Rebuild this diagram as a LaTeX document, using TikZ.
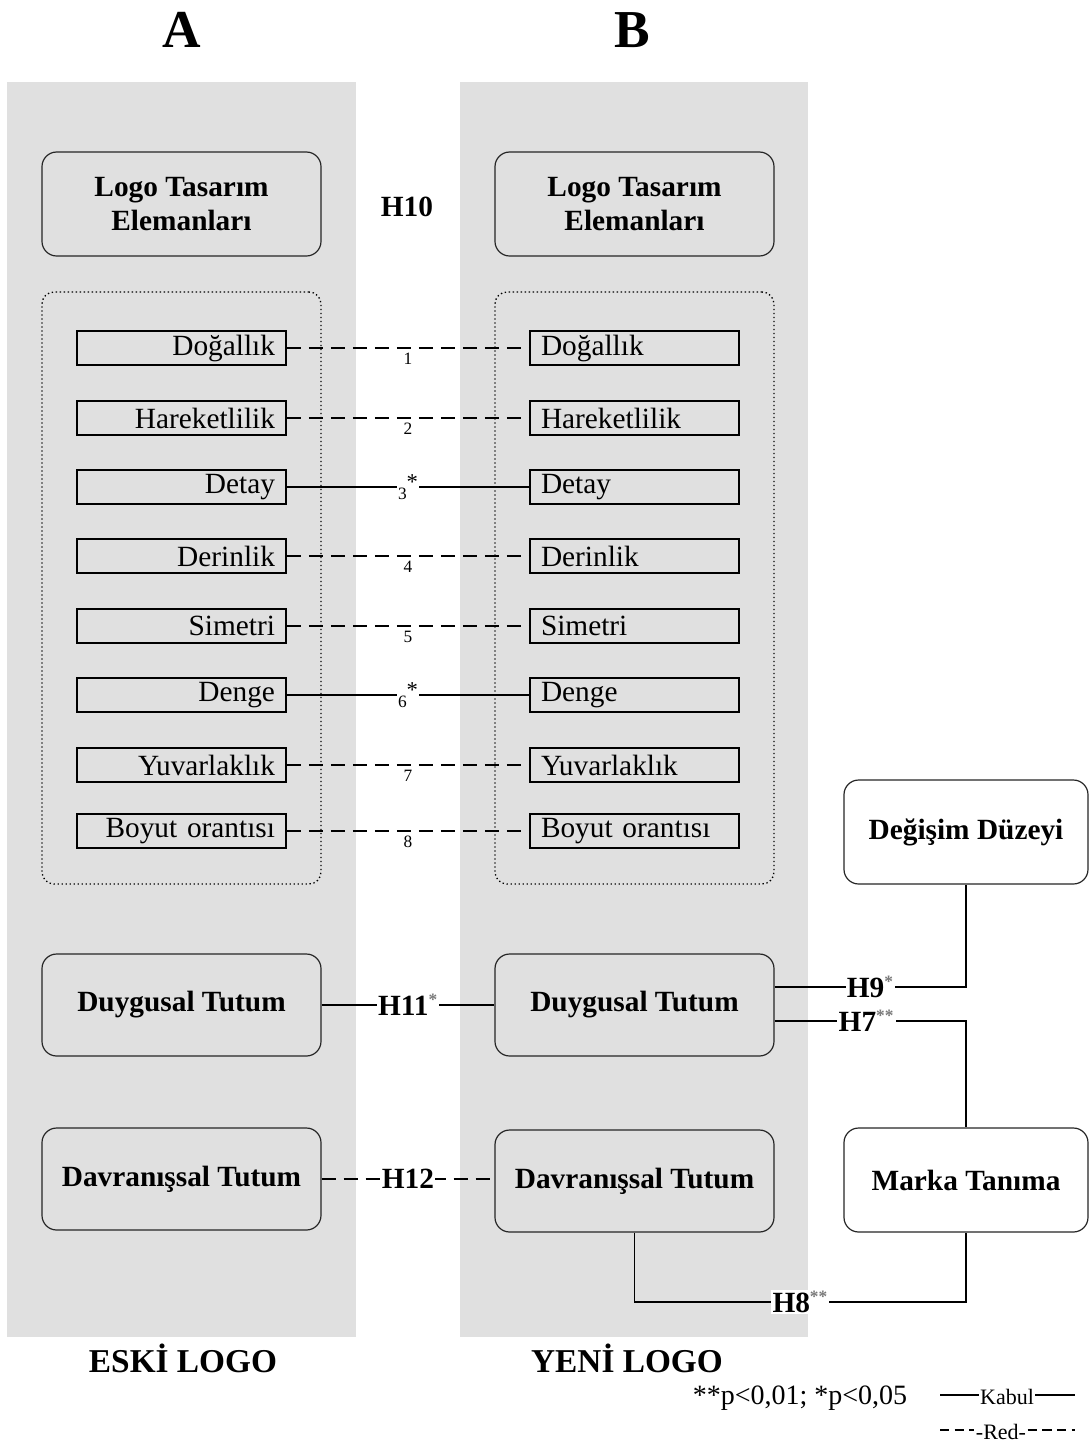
\documentclass[tikz,border=0pt]{standalone}
\usepackage{fontspec}
\setmainfont{Liberation Serif}
\usetikzlibrary{calc}
\definecolor{panelgray}{RGB}{224,224,224}
\definecolor{stargray}{RGB}{120,120,120}
\newcommand{\pxu}{0.75pt}
\newcommand{\sstar}[1]{\textsuperscript{\color{stargray}\fontsize{13}{13}\selectfont #1}}
\tikzset{
  panel/.style={fill=panelgray, draw=none},
  bigbox/.style={draw=black!85, line width=0.9pt, rounded corners=11pt, fill=panelgray,
    minimum width=279*\pxu, minimum height=104*\pxu, align=center,
    font=\fontsize{22}{26}\selectfont\bfseries},
  sidebox/.style={bigbox, fill=white, minimum width=244*\pxu},
  groupbox/.style={draw, dotted, line width=1pt, rounded corners=9pt,
    minimum width=279*\pxu, minimum height=592*\pxu},
  itemA/.style={draw, line width=1.2pt, fill=panelgray, minimum height=34*\pxu,
    text width=187*\pxu, inner xsep=11*\pxu, inner ysep=0pt, align=right,
    font=\fontsize{22}{22}\selectfont},
  itemB/.style={itemA, align=left},
  link/.style={line width=1pt},
  dlink/.style={line width=1pt, dash pattern=on 11pt off 5.5pt},
  numlab/.style={font=\fontsize{13}{13}\selectfont, inner sep=0.5pt},
  hlab/.style={font=\fontsize{22}{22}\selectfont\bfseries, fill=white, inner sep=1pt},
  title/.style={font=\fontsize{40}{40}\selectfont\bfseries},
  foot/.style={font=\fontsize{25}{25}\selectfont\bfseries}
}
\begin{document}
\begin{tikzpicture}[x=0.75pt, y=-0.75pt]
  \useasboundingbox (0,0) rectangle (1089,1454);

  % column backgrounds
  \fill[panel] (7,82) rectangle (356,1337);
  \fill[panel] (460,82) rectangle (808,1337);

  % column titles
  \node[title] (tA) at (182,30) {A};
  \node[title] (tB) at (632,30) {B};

  % logo design element headers
  \node[bigbox] (logoA) at (181.5,204) {Logo Tasarım\\Elemanları};
  \node[bigbox] (logoB) at (634.5,204) {Logo Tasarım\\Elemanları};
  \node[font=\fontsize{22}{22}\selectfont\bfseries] (h10) at (407,207) {H10};

  % dotted groups
  \node[groupbox] (grpA) at (181.5,588) {};
  \node[groupbox] (grpB) at (634.5,588) {};

  % design elements, compared pairwise
  \foreach \i/\y/\t in {1/348/Doğallık, 2/418/Hareketlilik, 3/487/Detay, 4/556/Derinlik,
                        5/626/Simetri, 6/695/Denge, 7/765/Yuvarlaklık, 8/831/Boyut orantısı} {
    \node[itemA] (a\i) at (181.5,\y) {\t};
    \node[itemB] (b\i) at (634.5,\y) {\t};
  }

  % rejected element links
  \foreach \i in {1,2,4,5,7,8} {
    \draw[dlink] (a\i.east) -- (b\i.west);
    \node[numlab] (n\i) at ($(a\i.east)!0.5!(b\i.west)+(0,11)$) {\i};
  }
  % accepted element links
  \foreach \i in {3,6} {
    \draw[link] (a\i.east) -- (b\i.west)
      node[midway, fill=white, inner sep=1pt, font=\fontsize{13}{13}\selectfont] (n\i)
      {\raisebox{-6pt}{\i}\raisebox{1pt}{\fontsize{17}{17}\selectfont *}};
  }

  % attitude boxes
  \node[bigbox, minimum height=102*\pxu] (duyA) at (181.5,1005) {Duygusal Tutum};
  \node[bigbox, minimum height=102*\pxu] (duyB) at (634.5,1005) {Duygusal Tutum};
  \node[bigbox, minimum height=102*\pxu] (davA) at (181.5,1179) {Davranışsal Tutum};
  \node[bigbox, minimum height=102*\pxu] (davB) at (634.5,1181) {Davranışsal Tutum};

  % side boxes
  \node[sidebox] (degisim) at (966,832) {Değişim Düzeyi};
  \node[sidebox] (marka) at (966,1180) {Marka Tanıma};

  % H11 and H12
  \draw[link] (duyA.east) -- (duyB.west)
    node[hlab, midway] (h11) {H11\sstar{*}};
  \draw[dlink] (davA.east) -- (davB.west |- davA.east)
    node[hlab, midway] (h12) {H12};

  % H9, H7, H8
  \draw[link] ([yshift=13.5pt]duyB.east) -| (degisim.south)
    node[hlab, pos=0.25] (h9) {H9\sstar{*}};
  \draw[link] ([yshift=-12pt]duyB.east) -| (marka.north)
    node[hlab, pos=0.24] (h7) {H7\sstar{**}};
  \coordinate (h8c) at (634.5,1302);
  \draw[link] (davB.south) -- (h8c) -| (marka.south)
    node[hlab, pos=0.25] (h8) {H8\sstar{**}};

  % column captions
  \node[foot] (eski) at (183,1358) {ESKİ LOGO};
  \node[foot] (yeni) at (627,1358) {YENİ LOGO};

  % legend
  \node[font=\fontsize{21}{21}\selectfont] (sig) at (800,1398) {**p<0,01; *p<0,05};
  \node[font=\fontsize{16.5}{16.5}\selectfont, inner sep=1pt] (kabul) at (1007,1397) {Kabul};
  \coordinate (k1) at (940,1395);
  \coordinate (k2) at (1075,1395);
  \draw[line width=0.8pt] (k1) -- (k1 -| kabul.west);
  \draw[line width=0.8pt] (kabul.east |- k2) -- (k2);
  \node[font=\fontsize{16.5}{16.5}\selectfont, inner sep=1pt] (red) at (1001,1432) {-Red-};
  \coordinate (r1) at (940,1430);
  \coordinate (r2) at (1075,1430);
  \draw[line width=0.8pt, dash pattern=on 7pt off 4pt] (r1) -- (r1 -| red.west);
  \draw[line width=0.8pt, dash pattern=on 7pt off 4pt] (red.east |- r2) -- (r2);
\end{tikzpicture}
\end{document}
